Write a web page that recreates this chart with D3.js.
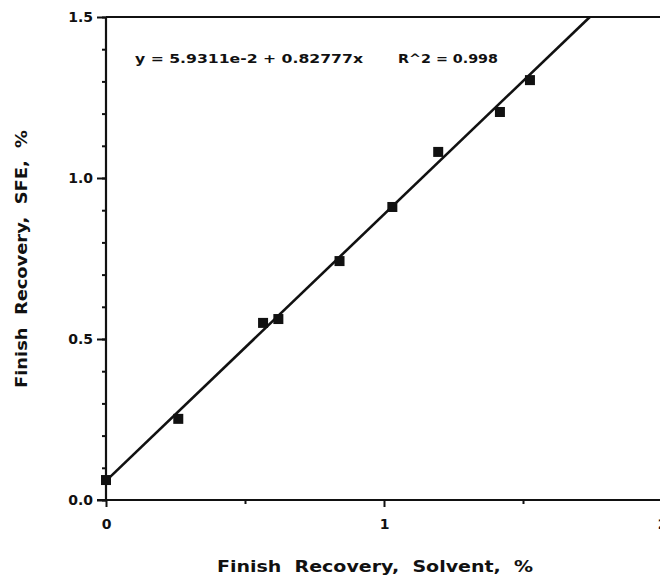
<!DOCTYPE html>
<html>
<head>
<meta charset="utf-8">
<script src="https://cdn.jsdelivr.net/npm/d3@7"></script>
<style>
  body { margin: 0; background: #fff; }
  text { font-family: "DejaVu Sans", "Liberation Sans", Arial, sans-serif; font-weight: bold; fill: #111; white-space: pre; }
</style>
</head>
<body>
<svg id="chart" width="660" height="577"></svg>
<script>
// measured points: solvent recovery (x) vs SFE recovery (y), %
var solvent = [0, 0.26, 0.565, 0.62, 0.84, 1.03, 1.195, 1.417, 1.525];
var sfe = [0.062, 0.252, 0.55, 0.562, 0.742, 0.91, 1.081, 1.205, 1.304];

// regression from the plot
var intercept = 5.9311e-2;
var slope = 0.82777;
var r2 = 0.998;

var xMajor = [0, 1, 2];
var xMinor = [0.5, 1.5];
var yMajor = [0, 0.5, 1.0, 1.5];
var yMinor = d3.range(0, 16).map(function(i) { return i / 10; });

var font = '"DejaVu Sans", "Liberation Sans", Arial, sans-serif';
var svg = d3.select('#chart');

var x = d3.scaleLinear().domain([0, 2]).range([106, 662]);
var y = d3.scaleLinear().domain([0, 1.5]).range([500, 17]);

// minor ticks
svg.append('g')
    .attr('transform', 'translate(' + x(0) + ',0)')
    .call(d3.axisLeft(y).tickValues(yMinor).tickSize(4).tickFormat(''))
    .call(function(g) { g.select('.domain').remove(); })
    .selectAll('line').attr('stroke', '#111').attr('stroke-width', 2);

svg.append('g')
    .attr('transform', 'translate(0,' + y(0) + ')')
    .call(d3.axisBottom(x).tickValues(xMinor).tickSize(4).tickFormat(''))
    .call(function(g) { g.select('.domain').remove(); })
    .selectAll('line').attr('stroke', '#111').attr('stroke-width', 2);

// major axes
var yAxis = svg.append('g')
    .attr('transform', 'translate(' + x(0) + ',0)')
    .call(d3.axisLeft(y).tickValues(yMajor).tickSize(9).tickPadding(4).tickFormat(d3.format('.1f')));

var xAxis = svg.append('g')
    .attr('transform', 'translate(0,' + y(0) + ')')
    .call(d3.axisBottom(x).tickValues(xMajor).tickSize(7).tickPadding(12).tickFormat(d3.format('d')));

[yAxis, xAxis].forEach(function(g) {
  g.select('.domain').attr('stroke', '#111').attr('stroke-width', 2.2);
  g.selectAll('line').attr('stroke', '#111').attr('stroke-width', 2);
  g.selectAll('text').attr('font-size', 14).attr('font-family', font)
    .attr('font-weight', 'bold').attr('fill', '#111');
});
xAxis.select('.domain').attr('d', 'M' + (x(0) - 9) + ',0H660');
yAxis.select('.domain').attr('d', 'M0,' + y(0) + 'V' + y(1.5));

// top frame line
svg.append('line')
    .attr('x1', x(0)).attr('x2', 660)
    .attr('y1', y(1.5)).attr('y2', y(1.5))
    .attr('stroke', '#111').attr('stroke-width', 2.2);

// fit line, stops at the top of the frame
var xEnd = (1.5 - intercept) / slope;
svg.append('line')
    .attr('x1', x(0)).attr('y1', y(intercept))
    .attr('x2', x(xEnd)).attr('y2', y(1.5))
    .attr('stroke', '#111').attr('stroke-width', 2.6);

// square markers
var pts = solvent.map(function(v, i) { return { x: v, y: sfe[i] }; });
svg.selectAll('rect.pt')
    .data(pts)
  .enter().append('rect')
    .attr('class', 'pt')
    .attr('x', function(d) { return x(d.x) - 5; })
    .attr('y', function(d) { return y(d.y) - 5; })
    .attr('width', 10)
    .attr('height', 10)
    .attr('fill', '#111');

// equation
svg.append('text')
    .attr('x', 135).attr('y', 63)
    .attr('font-size', 13)
    .attr('textLength', 228).attr('lengthAdjust', 'spacingAndGlyphs')
    .text('y = ' + '5.9311e-2' + ' + ' + slope + 'x');
svg.append('text')
    .attr('x', 398).attr('y', 63)
    .attr('font-size', 13)
    .attr('textLength', 100).attr('lengthAdjust', 'spacingAndGlyphs')
    .text('R^2 = ' + r2);

// axis titles
svg.append('text')
    .attr('x', 375).attr('y', 572)
    .attr('text-anchor', 'middle')
    .attr('font-size', 15)
    .attr('textLength', 316).attr('lengthAdjust', 'spacingAndGlyphs')
    .text('Finish  Recovery,  Solvent,  %');

svg.append('text')
    .attr('transform', 'translate(27,259) rotate(-90)')
    .attr('text-anchor', 'middle')
    .attr('font-size', 15)
    .attr('textLength', 258).attr('lengthAdjust', 'spacingAndGlyphs')
    .text('Finish  Recovery,  SFE,  %');
</script>
</body>
</html>
